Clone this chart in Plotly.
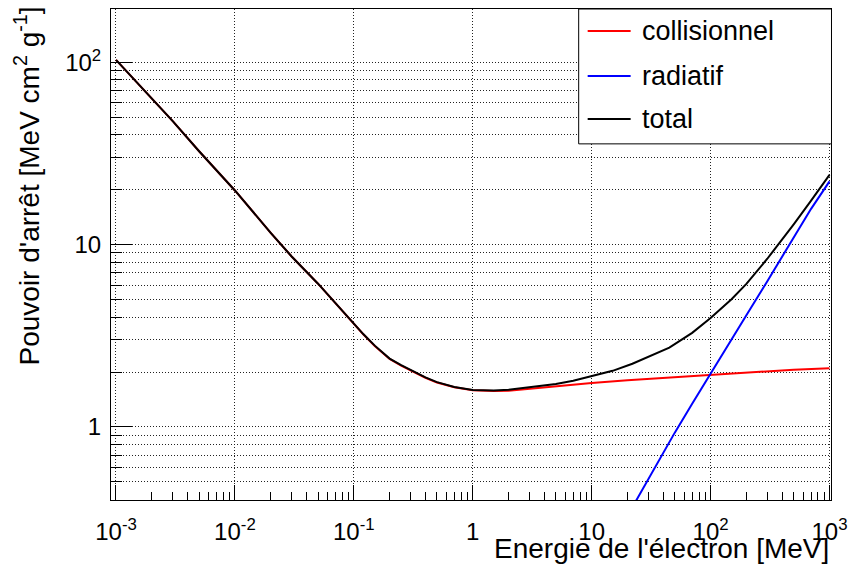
import plotly.graph_objects as go

# electron energy [MeV] and stopping powers [MeV cm2 g-1]
energie_col = [0.001, 0.002, 0.003, 0.005, 0.01, 0.02, 0.03, 0.05, 0.07, 0.1, 0.12, 0.15, 0.2, 0.25,
               0.3, 0.4, 0.5, 0.7, 1, 1.5, 2, 3, 5, 10, 20, 30, 50, 100, 200, 300, 500, 1000]
collisionnel = [103, 63.5, 47.5, 32.5, 19.8, 11.6, 8.6, 6.1, 4.75, 3.66, 3.22, 2.78, 2.36, 2.17,
                2.04, 1.86, 1.75, 1.65, 1.59, 1.575, 1.58, 1.62, 1.66, 1.74, 1.80, 1.83, 1.87, 1.93,
                1.99, 2.02, 2.06, 2.10]

energie_tot = [0.001, 0.002, 0.003, 0.005, 0.01, 0.02, 0.03, 0.05, 0.07, 0.1, 0.12, 0.15, 0.2, 0.25,
               0.3, 0.4, 0.5, 0.7, 1, 1.5, 2, 3, 5, 7, 10, 15, 22, 30, 45, 70, 100, 150, 200, 300,
               400, 500, 700, 1000]
total = [103, 63.5, 47.5, 32.5, 19.8, 11.6, 8.6, 6.1, 4.76, 3.67, 3.23, 2.79, 2.37, 2.18,
         2.05, 1.87, 1.76, 1.655, 1.595, 1.585, 1.60, 1.65, 1.72, 1.79, 1.89, 2.03, 2.22, 2.42,
         2.72, 3.28, 3.96, 5.01, 6.09, 8.36, 10.64, 12.92, 17.43, 24.1]

energie_rad = [20, 30, 50, 70, 100, 150, 200, 300, 500, 700, 1000]
radiatif = [0.325, 0.52, 0.93, 1.34, 1.97, 3.0, 4.1, 6.3, 11.0, 15.7, 22.2]

x_ticks = [1e-3, 1e-2, 1e-1, 1, 10, 100, 1000]
x_labels = ["10<sup>-3</sup>", "10<sup>-2</sup>", "10<sup>-1</sup>", "1", "10",
            "10<sup>2</sup>", "10<sup>3</sup>"]
y_ticks = [1, 10, 100]
y_labels = ["1", "10", "10<sup>2</sup>"]

W, H = 851, 573
L, R, T, B = 111, 831.5, 9, 500.5  # frame in pixels

def px(x):
    return (x - L) / (R - L)

def py(y):
    return (B - y) / (B - T)

fig = go.Figure()
fig.add_trace(go.Scatter(x=energie_col, y=collisionnel, mode="lines", name="collisionnel",
                         line=dict(color="#ff0000", width=2), showlegend=False))
fig.add_trace(go.Scatter(x=energie_rad, y=radiatif, mode="lines", name="radiatif",
                         line=dict(color="#0000ff", width=2), showlegend=False))
fig.add_trace(go.Scatter(x=energie_tot, y=total, mode="lines", name="total",
                         line=dict(color="#000000", width=2), showlegend=False))

minor_x = [m * 10 ** e for e in range(-3, 3) for m in range(2, 10)]
minor_y = [m * 10 ** e for e in range(-1, 3) for m in range(2, 10)]
minor_y = [v for v in minor_y if 0.35 < v < 210]

grid = dict(showgrid=True, gridcolor="#222222", griddash="1px,2px", gridwidth=1)
font = "Liberation Sans, Arial, sans-serif"
fig.update_xaxes(type="log", range=[-3.042, 3.0126], tickvals=x_ticks, ticktext=x_labels,
                 ticks="inside", ticklen=15, tickwidth=1, tickcolor="black", automargin=False,
                 showline=True, linecolor="black", linewidth=1, mirror=True,
                 tickfont=dict(size=24, color="black"), ticklabelstandoff=10,
                 minor=dict(tickvals=minor_x, ticks="inside", ticklen=8, tickcolor="black",
                            showgrid=False), **grid)
fig.update_yaxes(type="log", range=[-0.401, 2.292], tickvals=y_ticks, ticktext=y_labels,
                 ticks="inside", ticklen=21, tickwidth=1, tickcolor="black", automargin=False,
                 showline=True, linecolor="black", linewidth=1, mirror=True,
                 tickfont=dict(size=24, color="black"), ticklabelstandoff=4,
                 minor=dict(tickvals=minor_y, ticks="inside", ticklen=11, tickcolor="black",
                            **grid), **grid)

# legend box drawn by hand (ROOT style)
shapes = [dict(type="rect", xref="paper", yref="paper", x0=px(579), x1=px(832), y0=py(144), y1=py(9),
               fillcolor="white", line=dict(color="black", width=1), layer="above")]
annotations = []
for name, col, yy in [("collisionnel", "#ff0000", 31), ("radiatif", "#0000ff", 76), ("total", "#000000", 119)]:
    shapes.append(dict(type="line", xref="paper", yref="paper", x0=px(588), x1=px(631),
                       y0=py(yy), y1=py(yy), line=dict(color=col, width=2), layer="above"))
    annotations.append(dict(text=name, xref="paper", yref="paper", x=px(640), y=py(yy),
                            xanchor="left", yanchor="middle", showarrow=False,
                            font=dict(size=27, color="black")))

annotations.append(dict(text="Energie de l'électron [MeV]", xref="paper", yref="paper",
                        x=1, y=0, xanchor="right", yanchor="top", yshift=-31, showarrow=False,
                        font=dict(size=28, color="black")))
annotations.append(dict(text="Pouvoir d'arrêt [MeV cm<sup>2</sup> g<sup>-1</sup>]", xref="paper", yref="paper",
                        x=0, y=1, xanchor="center", yanchor="top", xshift=-84, yshift=4, textangle=-90,
                        showarrow=False, font=dict(size=28, color="black")))

fig.update_layout(width=W, height=H, margin=dict(l=L, r=W - R, t=T, b=H - B, autoexpand=False),
                  paper_bgcolor="white", plot_bgcolor="white",
                  font=dict(family=font, color="black"),
                  shapes=shapes, annotations=annotations)

fig.write_html("out.html", config={"displayModeBar": False},
               post_script="document.body.style.margin='0px';")
